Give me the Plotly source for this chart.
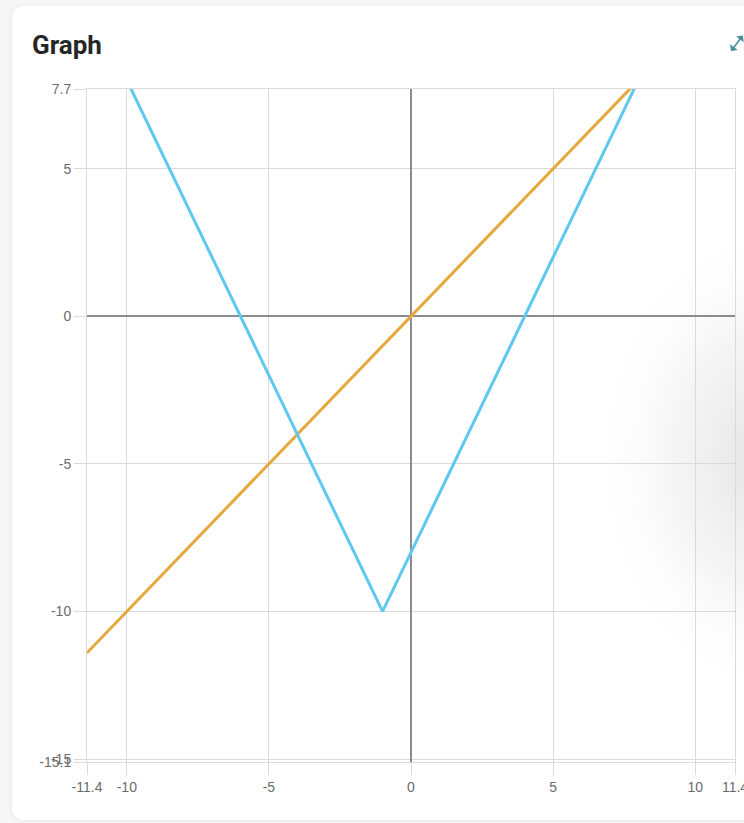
import base64
import plotly.graph_objects as go

# ---- data ----
line_x = [-11.4, 11.4]
line_y = [-11.4, 11.4]          # y = x
abs_x = [-11.4, -1, 11.4]
abs_y = [10.8, -10, 14.8]       # y = 2|x+1| - 10

x_ticks = [-11.4, -10, -5, 0, 5, 10, 11.4]
x_labels = ["-11.4", "-10", "-5", "0", "5", "10", "11.4"]
y_ticks = [-15.1, -15, -10, -5, 0, 5, 7.7]
y_labels = ["-15.1", "-15", "-10", "-5", "0", "5", "7.7"]

X_RANGE = [-11.4, 11.4]
Y_RANGE = [-15.1, 7.7]

W, H = 744, 823
L, R, T, B = 87, 9, 89, 61
PW, PH = W - L - R, H - T - B

ORANGE = "#e6a73c"
BLUE = "#5ec8ef"
GRID = "#dadada"
TICKFONT = dict(family="Liberation Sans, Arial, sans-serif", size=14, color="#6b6b6b")

# background: page, card, soft radial shade
svg = f"""<svg xmlns='http://www.w3.org/2000/svg' width='{W}' height='{H}' viewBox='0 0 {W} {H}'>
<defs>
<radialGradient id='g' cx='0.5' cy='0.5' r='0.5'>
<stop offset='0' stop-color='#e4e4e4' stop-opacity='1'/>
<stop offset='0.5' stop-color='#f1f1f1' stop-opacity='0.7'/>
<stop offset='1' stop-color='#ffffff' stop-opacity='0'/>
</radialGradient>
<filter id='s' x='-5%' y='-5%' width='110%' height='110%'>
<feGaussianBlur stdDeviation='3'/>
</filter>
</defs>
<rect x='0' y='0' width='{W}' height='{H}' fill='#f7f7f7'/>
<rect x='11' y='6' width='780' height='815' rx='12' fill='#ebebeb' filter='url(#s)'/>
<rect x='12' y='6' width='780' height='814' rx='12' fill='#ffffff'/>
<ellipse cx='760' cy='460' rx='175' ry='250' fill='url(#g)'/>
</svg>"""
src = "data:image/svg+xml;base64," + base64.b64encode(svg.encode()).decode()

fig = go.Figure()
fig.add_trace(go.Scatter(x=line_x, y=line_y, mode="lines",
                         line=dict(color=ORANGE, width=3), hoverinfo="skip", showlegend=False))
fig.add_trace(go.Scatter(x=abs_x, y=abs_y, mode="lines",
                         line=dict(color=BLUE, width=3), hoverinfo="skip", showlegend=False))

fig.add_layout_image(dict(source=src, xref="paper", yref="paper",
                          x=-L / PW, y=1 + T / PH, sizex=W / PW, sizey=H / PH,
                          xanchor="left", yanchor="top", sizing="stretch", layer="below"))

axis_common = dict(showgrid=True, gridcolor=GRID, gridwidth=1,
                   zeroline=True, zerolinecolor="#8c8c8c", zerolinewidth=1.5,
                   showline=True, linecolor=GRID, linewidth=1, mirror=True,
                   ticks="outside", ticklen=12, tickcolor=GRID, tickwidth=1,
                   tickfont=TICKFONT, tickmode="array", fixedrange=True,
                   ticklabeloverflow="allow", automargin=False)

fig.update_xaxes(range=X_RANGE, tickvals=x_ticks, ticktext=x_labels, **axis_common)
fig.update_yaxes(range=Y_RANGE, tickvals=y_ticks, ticktext=y_labels, **axis_common)

fig.add_annotation(text="<b>Graph</b>", xref="paper", yref="paper",
                   x=(30 - L) / PW, y=1 + (89 - 45) / PH, xanchor="left", yanchor="middle",
                   showarrow=False, font=dict(family="Roboto, Liberation Sans, sans-serif",
                                              size=26, color="#262626"))

# expand icon
fig.add_annotation(text="", xref="paper", yref="paper",
                   x=(731 - L) / PW, y=1 + (89 - 51) / PH, ax=17, ay=-17,
                   showarrow=True, arrowside="end+start", arrowhead=1, startarrowhead=1,
                   arrowsize=1, startarrowsize=1, arrowwidth=1.6, arrowcolor="#4a8c9c")

fig.update_layout(width=W, height=H, autosize=False,
                  margin=dict(l=L, r=R, t=T, b=B, autoexpand=False),
                  paper_bgcolor="#ffffff", plot_bgcolor="rgba(0,0,0,0)",
                  showlegend=False)

fig.write_html("out.html", config={"displayModeBar": False},
               post_script="document.body.style.margin='0';document.body.style.overflow='hidden';")
